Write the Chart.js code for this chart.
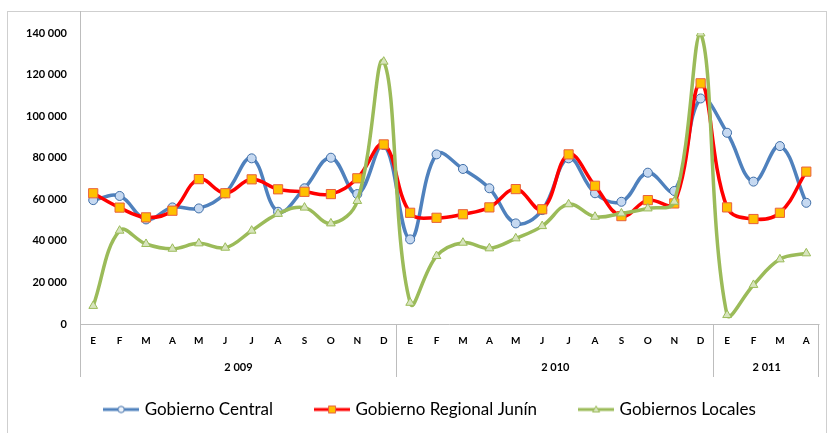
<!DOCTYPE html>
<html>
<head>
<meta charset="utf-8">
<script src="https://cdn.jsdelivr.net/npm/chart.js@4.4.1/dist/chart.umd.min.js"></script>
<style>
  html, body { margin: 0; padding: 0; background: #fff; }
</style>
</head>
<body>
<canvas id="chart" width="827" height="433"></canvas>
<script>
// months: 2009 (12), 2010 (12), 2011 (4)
const months = [
  'E', 'F', 'M', 'A', 'M', 'J', 'J', 'A', 'S', 'O', 'N', 'D',
  'E', 'F', 'M', 'A', 'M', 'J', 'J', 'A', 'S', 'O', 'N', 'D',
  'E', 'F', 'M', 'A',
];
const years = ['2 009', '2 010', '2 011'];
const yearSpans = [12, 12, 4];
const yTicks = [0, 20000, 40000, 60000, 80000, 100000, 120000, 140000];

const central = [
  59600, 61600, 50300, 56100, 55600, 62900, 79700, 54000, 65300, 80000, 62500, 86100,
  40700, 81600, 74600, 65300, 48400, 54800, 79700, 62900, 58800, 72800, 64000, 108500,
  92000, 68500, 85600, 58300,
];
const regional = [
  62900, 56000, 51300, 54500, 69700, 62900, 69600, 64800, 63600, 62500, 70100, 86400,
  53500, 51100, 52800, 56100, 64900, 55200, 81600, 66500, 51900, 59600, 58000, 115800,
  56100, 50500, 53500, 73300,
];
const locales = [
  8700, 44900, 38500, 36200, 38800, 36700, 44900, 53000, 56000, 48400, 59200, 126200,
  10200, 32700, 39100, 36400, 41200, 47100, 57600, 51600, 53200, 55600, 58800, 139800,
  4300, 18800, 31100, 34000,
];

const seriesStyle = [
  { label: 'Gobierno Central', line: '#4f81bd', marker: 'circle', fill: '#c6d9f1', border: '#3f6ea8', radius: 4.5 },
  { label: 'Gobierno Regional Junín', line: '#ff0000', marker: 'rect', fill: '#ffc000', border: '#e8603c', radius: 6.5 },
  { label: 'Gobiernos Locales', line: '#9bbb59', marker: 'triangle', fill: '#d7e4bd', border: '#9bbb59', radius: 5 },
];

Chart.defaults.font.family = 'Lato';
Chart.defaults.color = '#000';

function legendIcon(s) {
  const c = document.createElement('canvas');
  c.width = 36;
  c.height = 14;
  const g = c.getContext('2d');
  g.strokeStyle = s.line;
  g.lineWidth = 3;
  g.beginPath();
  g.moveTo(0, 7);
  g.lineTo(36, 7);
  g.stroke();
  g.fillStyle = s.marker === 'circle' ? '#eef3fa' : s.fill;
  g.strokeStyle = s.border;
  g.lineWidth = 1;
  g.beginPath();
  if (s.marker === 'circle') {
    g.arc(18, 7, 3.2, 0, Math.PI * 2);
  } else if (s.marker === 'rect') {
    g.rect(14.5, 3.5, 7, 7);
  } else {
    g.moveTo(18, 3.5);
    g.lineTo(21.5, 9.5);
    g.lineTo(14.5, 9.5);
    g.closePath();
  }
  g.fill();
  g.stroke();
  return c;
}
const icons = seriesStyle.map(legendIcon);

// frame, axis lines, year groups
const excelAxis = {
  id: 'excelAxis',
  afterLayout(chart) {
    // legend sits a bit right of the canvas centre and a little higher
    chart.legend.left += 8;
    chart.legend.right += 8;
    chart.legend.top -= 5;
    chart.legend.bottom -= 5;
  },
  beforeDraw(chart) {
    const { ctx } = chart;
    ctx.save();
    ctx.fillStyle = '#fff';
    ctx.fillRect(0, 0, chart.width, chart.height);
    ctx.strokeStyle = '#cfcfcf';
    ctx.lineWidth = 1;
    ctx.strokeRect(7.5, 11.5, chart.width - 8, chart.height + 10);
    ctx.restore();
  },
  beforeDatasetsDraw(chart) {
    const { ctx, chartArea } = chart;
    const x = chart.scales.x;
    const half = (x.getPixelForValue(1) - x.getPixelForValue(0)) / 2;
    const groupBottom = 377;
    ctx.save();
    ctx.strokeStyle = '#bdbdbd';
    ctx.lineWidth = 1;
    ctx.beginPath();
    ctx.moveTo(Math.round(chartArea.left) + 0.5, 11);
    ctx.lineTo(Math.round(chartArea.left) + 0.5, groupBottom);
    ctx.moveTo(chartArea.left, Math.round(chartArea.bottom) + 0.5);
    ctx.lineTo(chartArea.right, Math.round(chartArea.bottom) + 0.5);
    let start = 0;
    const labels = [];
    yearSpans.forEach((n, i) => {
      const a = x.getPixelForValue(start) - half;
      const b = x.getPixelForValue(start + n - 1) + half;
      const bx = Math.round(b) - 0.5;
      ctx.moveTo(bx, chartArea.bottom);
      ctx.lineTo(bx, groupBottom);
      labels.push([years[i], (a + b) / 2]);
      start += n;
    });
    ctx.stroke();
    ctx.fillStyle = '#000';
    ctx.font = 'bold 11px Lato';
    ctx.textAlign = 'center';
    ctx.textBaseline = 'middle';
    labels.forEach(([t, cx]) => ctx.fillText(t, cx, 367));
    ctx.restore();
  },
};

new Chart(document.getElementById('chart'), {
  type: 'line',
  data: {
    labels: months,
    datasets: [central, regional, locales].map((values, i) => {
      const s = seriesStyle[i];
      return {
        label: s.label,
        data: values,
        borderColor: s.line,
        borderWidth: 3.5,
        backgroundColor: s.fill,
        pointStyle: s.marker,
        pointRadius: s.radius,
        pointBackgroundColor: s.fill,
        pointBorderColor: s.border,
        pointBorderWidth: 1,
        tension: 0.4,
        order: 3 - i,
      };
    }),
  },
  plugins: [excelAxis],
  options: {
    responsive: false,
    animation: false,
    layout: { padding: { top: 33, left: 20, right: 1, bottom: 0 } },
    plugins: {
      tooltip: { enabled: false },
      legend: {
        position: 'bottom',
        maxHeight: 80,
        labels: {
          usePointStyle: true,
          pointStyleWidth: 30,
          padding: 44,
          color: '#000',
          font: { size: 17 },
          generateLabels: (chart) => chart.data.datasets.map((ds, i) => ({
            text: ds.label,
            pointStyle: icons[i],
            datasetIndex: i,
            hidden: false,
            lineWidth: 0,
          })),
        },
      },
    },
    scales: {
      x: {
        offset: true,
        grid: { display: false, drawTicks: false },
        border: { display: false },
        ticks: { autoSkip: false, maxRotation: 0, padding: 11, font: { size: 10, weight: 'bold' } },
        afterFit: (scale) => { scale.height = 38; },
      },
      y: {
        min: 0,
        max: 140000,
        grid: { display: false, drawTicks: false },
        border: { display: false },
        afterBuildTicks: (scale) => { scale.ticks = yTicks.map((v) => ({ value: v })); },
        ticks: {
          padding: 13,
          font: { size: 11, weight: 'bold' },
          callback: (v) => String(v).replace(/\B(?=(\d{3})+(?!\d))/g, ' '),
        },
        afterFit: (scale) => { scale.width = 60; },
      },
    },
  },
});
</script>
</body>
</html>
